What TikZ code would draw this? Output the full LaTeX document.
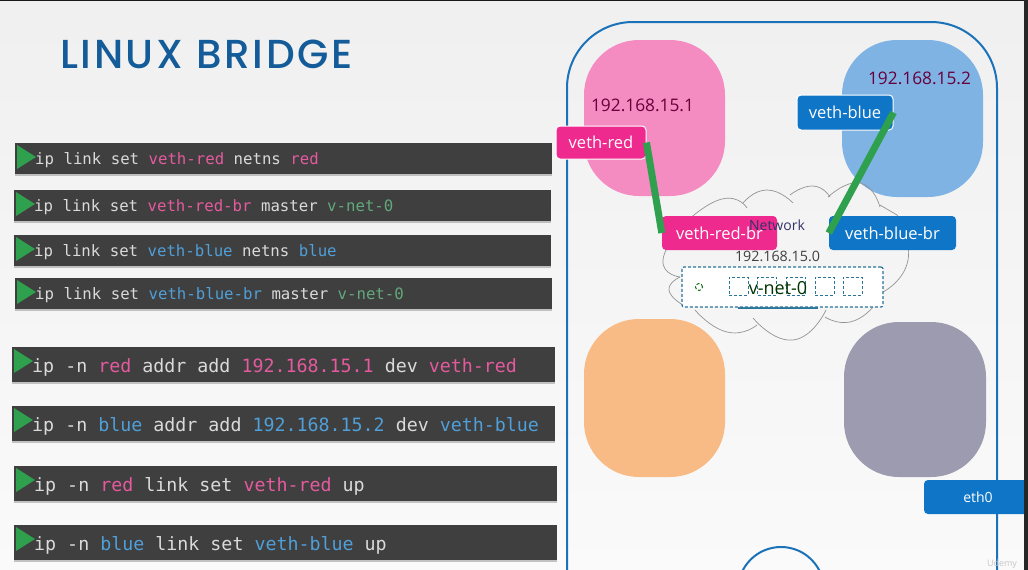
\documentclass[tikz,border=0pt]{standalone}
\usepackage{fontspec}
\setmainfont{Open Sans}
\setmonofont{DejaVu Sans Mono}
\newfontfamily\titlefont{Poppins}[UprightFont=* Medium, LetterSpace=6.5]
\usetikzlibrary{positioning, calc, shadows}

\definecolor{barfill}{HTML}{3F3F3F}
\definecolor{bartext}{HTML}{DADADA}
\definecolor{cmdred}{HTML}{E45A9E}
\definecolor{cmdblue}{HTML}{4F9FD9}
\definecolor{cmdgreen}{HTML}{62A87C}
\definecolor{hostblue}{HTML}{1B72B8}
\definecolor{titleblue}{HTML}{135C99}
\definecolor{vethpink}{HTML}{EE2A8E}
\definecolor{vethblue}{HTML}{0F75C6}
\definecolor{linkgreen}{HTML}{2EA04E}
\definecolor{bridgeteal}{HTML}{2A7399}
\definecolor{nspink}{HTML}{F48CC2}
\definecolor{nsblue}{HTML}{7FB3E4}
\definecolor{nsorange}{HTML}{F8BB85}
\definecolor{nsgrey}{HTML}{9C9BAF}

\newcommand{\cred}[1]{\textcolor{cmdred}{#1}}
\newcommand{\cblue}[1]{\textcolor{cmdblue}{#1}}
\newcommand{\cgreen}[1]{\textcolor{cmdgreen}{#1}}

\tikzset{
  cmdbar/.style={anchor=north west, fill=barfill, text=bartext, inner xsep=0pt, inner ysep=0pt, align=left,
    execute at begin node={\spaceskip=.602em\relax\xspaceskip=.602em\relax\hspace*{20pt}},
    drop shadow={shadow xshift=0pt, shadow yshift=-2pt, opacity=.45}},
  smallbar/.style={cmdbar, text width=537pt, minimum height=31pt, text height=15.5pt, text depth=3.8pt, font=\ttfamily\fontsize{15.7}{18}\selectfont},
  bigbar/.style={cmdbar, text width=543pt, minimum height=35pt, text height=19pt, text depth=4pt, font=\ttfamily\fontsize{18.3}{21}\selectfont},
  netns/.style={rounded corners=55pt, minimum width=141pt, minimum height=156pt, inner sep=0pt},
  veth/.style={rounded corners=4pt, text=white, inner sep=0pt, font=\fontsize{16.5}{19}\selectfont},
  linkline/.style={linkgreen, line width=7pt},
  cloudline/.style={gray!85, line width=.7pt},
  ipaddr/.style={inner sep=0pt, font=\fontsize{17.3}{20}\selectfont, text=black!40!purple!90!blue},
  portbox/.style={draw=bridgeteal, densely dashed, line width=.8pt, minimum width=19pt, minimum height=18pt, inner sep=0pt},
}

\begin{document}
\begin{tikzpicture}[x=1pt, y=-1pt]
  \clip (0,0) rectangle (1028,570);
  \shade[top color=black!6, bottom color=black!2] (0,0) rectangle (1028,570);

  % title
  \node[anchor=west, inner sep=0pt, text=titleblue, font=\titlefont\fontsize{40.5}{46}\selectfont] (title) at (60,54) {LINUX BRIDGE};

  % commands
  \node[smallbar] (cmda) at (15,143) {ip link set \cred{veth-red} netns \cred{red}};
  \node[smallbar] (cmdb) at (14,190) {ip link set \cred{veth-red-br} master \cgreen{v-net-0}};
  \node[smallbar] (cmdc) at (14,235) {ip link set \cblue{veth-blue} netns \cblue{blue}};
  \node[smallbar] (cmdd) at (15,278) {ip link set \cblue{veth-blue-br} master \cgreen{v-net-0}};
  \node[bigbar] (cmde) at (12,347) {ip -n \cred{red} addr add \cred{192.168.15.1} dev \cred{veth-red}};
  \node[bigbar] (cmdf) at (12,406) {ip -n \cblue{blue} addr add \cblue{192.168.15.2} dev \cblue{veth-blue}};
  \node[bigbar] (cmdg) at (14,466) {ip -n \cred{red} link set \cred{veth-red} up};
  \node[bigbar] (cmdh) at (14,525) {ip -n \cblue{blue} link set \cblue{veth-blue} up};
  \foreach \n in {cmda,cmdb,cmdc,cmdd,cmde,cmdf,cmdg,cmdh}
    \fill[linkgreen] ($(\n.north west)+(2,2)$) -- ++(0,24) -- ++(19,-12) -- cycle;

  % host
  \draw[hostblue, line width=2pt, rounded corners=66pt] (567,22) rectangle (997,640);
  \draw[hostblue, line width=2pt] (781,590) circle (43);

  % namespaces
  \node[netns, fill=nspink] (red) at (654.5,118) {};
  \node[netns, fill=nsblue, minimum height=157pt] (blue) at (912.5,118.5) {};
  \node[netns, fill=nsorange, minimum height=158pt] (orange) at (654.5,398) {};
  \node[netns, fill=nsgrey, minimum width=142pt, minimum height=155pt] (grey) at (915,399.5) {};

  % cloud
  \draw[cloudline] plot[smooth, tension=1] coordinates {(685,223) (722,199) (747,208)};
  \draw[cloudline] plot[smooth, tension=1] coordinates {(743,203) (767,190) (793,203)};
  \draw[cloudline] plot[smooth, tension=1] coordinates {(790,195) (813,186) (830,197)};
  \draw[cloudline] plot[smooth, tension=1] coordinates {(828,197) (860,183) (880,207)};
  \draw[cloudline] (880,205) -- (897,215);
  \draw[cloudline] plot[smooth, tension=1] coordinates {(897,215) (908,260) (883,292)};
  \draw[cloudline] plot[smooth, tension=1] coordinates {(873,307) (850,322) (825,317)};
  \draw[cloudline] plot[smooth, tension=1] coordinates {(826,310) (793,340) (753,318)};
  \draw[cloudline] plot[smooth, tension=1] coordinates {(757,325) (727,332) (695,310)};
  \draw[cloudline] plot[smooth, tension=1] coordinates {(683,305) (669,290) (680,277)};
  \draw[cloudline] plot[smooth, tension=1] coordinates {(680,277) (663,260) (685,223)};

  % bridge
  \draw[bridgeteal, line width=2pt] (738,307.5) -- (818,307.5);
  \node[draw=bridgeteal, fill=white, densely dashed, line width=1.2pt, rounded corners=2pt, minimum width=201pt, minimum height=40pt, inner sep=0pt] (vnet) at (782.5,287) {};
  \node[portbox] (porta) at (738.5,286) {};
  \node[portbox, right=9pt of porta] (portb) {};
  \node[portbox, right=9pt of portb] (portc) {};
  \node[portbox, right=9pt of portc] (portd) {};
  \node[portbox, right=8pt of portd] (porte) {};
  \node[draw=green!40!black, densely dashed, circle, line width=.9pt, minimum size=7pt, inner sep=0pt] (spin) at (699,287) {};
  \node[inner sep=0pt, text=black!80!green, font=\fontsize{18}{21}\selectfont] (vnetlabel) at (778,288) {v-net-0};

  % veth ends
  \node[veth, fill=vethpink, draw=white, line width=1pt, minimum width=90pt, minimum height=33pt] (vethred) at (601,142.5) {veth-red};
  \node[veth, fill=vethblue, draw=white, line width=1pt, minimum width=96pt, minimum height=35pt] (vethblue) at (845,112.5) {veth-blue};
  \node[veth, fill=vethpink, minimum width=115pt, minimum height=34pt] (vethredbr) at (719.5,233) {veth-red-br};
  \node[veth, fill=vethblue, minimum width=127pt, minimum height=34pt] (vethbluebr) at (892.5,233) {veth-blue-br};
  \node[veth, fill=vethblue, minimum width=108pt, minimum height=34pt, font=\fontsize{14}{16}\selectfont] (eth) at (978,497) {eth0};

  % addresses
  \node[ipaddr] (ipred) at (642.5,105) {192.168.15.1};
  \node[ipaddr] (ipblue) at (919.5,78) {192.168.15.2};
  \node[inner sep=0pt, text=black!65!blue!60!gray, font=\fontsize{14}{17}\selectfont] (netname) at (777,225) {Network};
  \node[inner sep=0pt, text=black!75, font=\fontsize{14.3}{17}\selectfont] (netaddr) at (777.5,256) {192.168.15.0};

  % links
  \draw[linkline] (vethred.east) -- (vethredbr.west);
  \draw[linkline] (vethblue.east) -- (vethbluebr.west);

  % frame edges
  \fill[black!90] (0,0) rectangle (1028,1);
  \fill[black!85] (1024,0) rectangle (1028,570);
  \node[inner sep=0pt, text=black!22, font=\fontsize{9}{10}\selectfont] (mark) at (1002,564) {Udemy};
\end{tikzpicture}
\end{document}
